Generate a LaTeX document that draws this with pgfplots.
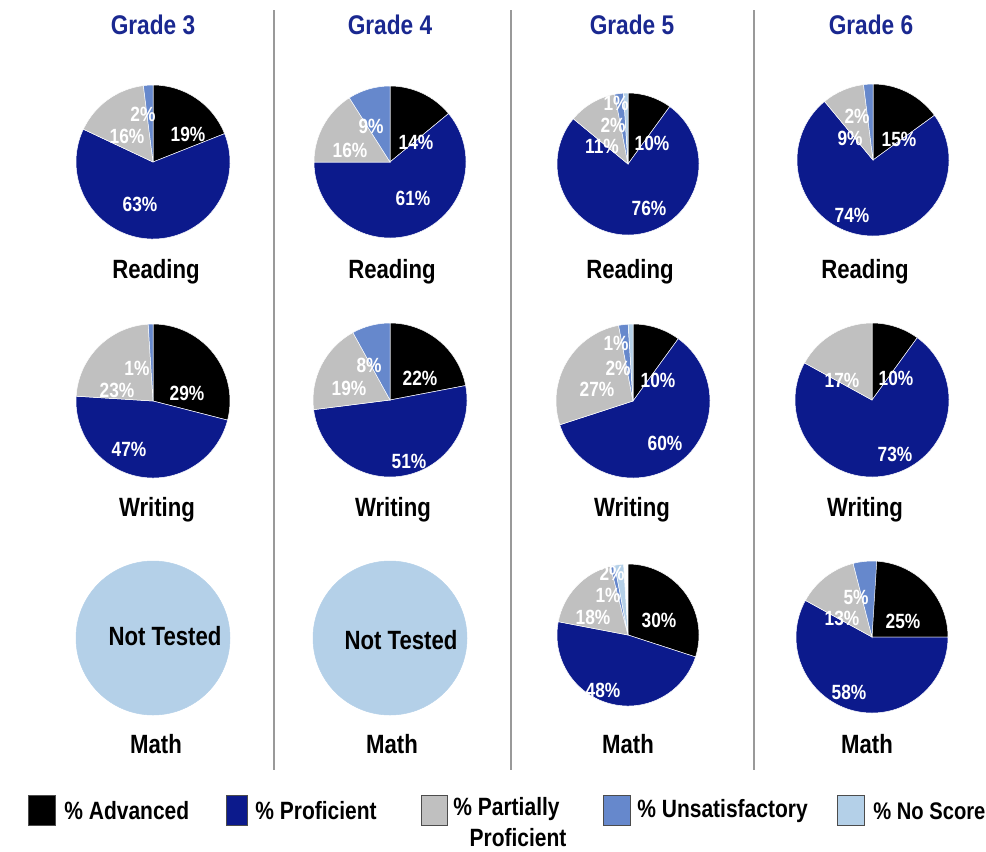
\documentclass[border=0pt]{standalone}
\usepackage{pgfplots}
\pgfplotsset{compat=1.18}
\usepackage{fontspec}
\setmainfont{Liberation Sans}[FakeStretch=0.84]
\definecolor{cAdv}{HTML}{000000}
\definecolor{cPro}{HTML}{0C1A8C}
\definecolor{cPar}{HTML}{C0C0C0}
\definecolor{cUns}{HTML}{6688CC}
\definecolor{cNos}{HTML}{B4D0E8}
\definecolor{cTitle}{HTML}{1A2890}

% one pie: centre x, centre y, radius (px), values in the order
% Advanced, Proficient, Partially, Unsatisfactory, No Score
\newcommand\pie[4]{%
  \xdef\pieang{90}%
  \pgfmathsetmacro\rr{0.5*#3}%
  \foreach \v [count=\i] in {#4}{%
    \pgfmathsetmacro\pend{\pieang-3.6*\v}%
    \ifcase\i\or\def\pc{cAdv}\or\def\pc{cPro}\or\def\pc{cPar}\or\def\pc{cUns}\or\def\pc{cNos}\fi
    \ifdim\v pt<100pt \def\pd{white}\else\def\pd{\pc}\fi
    \ifdim\v pt>0pt
      \edef\temp{\noexpand\fill[\pc, draw=\pd, line width=0.25pt] (axis cs:#1,#2) -- ++(\pieang:\rr pt) arc[start angle=\pieang, end angle=\pend, radius=\rr pt] -- cycle;}%
      \temp
    \fi
    \xdef\pieang{\pend}%
  }%
}
\newcommand\lab[3]{\node[text=white, font=\bfseries\fontsize{10.3}{11}\selectfont] at (axis cs:#1,#2) {#3\%};}
\newcommand\bigtxt[3]{\node[font=\bfseries\fontsize{13.2}{14}\selectfont] at (axis cs:#1,#2) {#3};}
\newcommand\gtitle[2]{\node[text=cTitle, font=\bfseries\fontsize{13.5}{14}\selectfont] at (axis cs:#1,25) {#2};}
\newcommand\legbox[3]{\draw[draw=black!70, fill=#3, line width=0.4pt] (axis cs:#1,795) rectangle (axis cs:#2,825);}
\newcommand\legtext[3]{\node[anchor=west, inner sep=0pt, font=\bfseries\fontsize{12.5}{14}\selectfont] at (axis cs:#1,#2) {#3};}

\begin{document}
\begin{tikzpicture}
\useasboundingbox (0,0) rectangle (493pt,426pt);
\begin{axis}[
  x=0.5pt, y=0.5pt,
  xmin=0, xmax=986, ymin=0, ymax=852,
  y dir=reverse,
  enlargelimits=false,
  hide axis, clip=false,
  at={(0,0)}, anchor=south west,
]
% separators
\draw[gray!80, line width=0.8pt] (axis cs:274,10) -- (axis cs:274,770);
\draw[gray!80, line width=0.8pt] (axis cs:511,10) -- (axis cs:511,770);
\draw[gray!80, line width=0.8pt] (axis cs:754,10) -- (axis cs:754,770);

% Reading
\pie{153}{162}{77}{19,63,16,2,0}
\pie{390}{162}{76}{14,61,16,9,0}
\pie{628}{164}{71}{10,76,11,2,1}
\pie{873}{160}{76}{15,74,9,2,0}
% Writing
\pie{153}{401}{77}{29,47,23,1,0}
\pie{390}{400}{77}{22,51,19,8,0}
\pie{633}{401}{77}{10,60,27,2,1}
\pie{872}{400}{77}{10,73,17,0,0}
% Math
\pie{153}{638}{77}{0,0,0,0,100}
\pie{390}{638}{77}{0,0,0,0,100}
\pie{628}{635}{71}{30,48,18,1,2}
\pie{872}{637}{76}{25,58,13,5,0}

% slice labels
\lab{188}{134}{19}\lab{140}{204}{63}\lab{127}{136}{16}\lab{143}{114}{2}
\lab{416}{142}{14}\lab{413}{198}{61}\lab{350}{150}{16}\lab{371}{126}{9}
\lab{652}{143}{10}\lab{649}{208}{76}\lab{602}{146}{11}\lab{613}{125}{2}\lab{616}{103}{1}
\lab{899}{139}{15}\lab{852}{215}{74}\lab{850}{138}{9}\lab{857}{116}{2}

\lab{187}{393}{29}\lab{129}{449}{47}\lab{117}{390}{23}\lab{137}{368}{1}
\lab{420}{378}{22}\lab{409}{461}{51}\lab{349}{388}{19}\lab{369}{365}{8}
\lab{658}{380}{10}\lab{665}{443}{60}\lab{597}{389}{27}\lab{618}{368}{2}\lab{616}{343}{1}
\lab{896}{378}{10}\lab{895}{454}{73}\lab{842}{380}{17}

\lab{659}{620}{30}\lab{603}{690}{48}\lab{593}{617}{18}\lab{608}{595}{1}\lab{612}{573}{2}
\lab{903}{621}{25}\lab{849}{692}{58}\lab{842}{618}{13}\lab{856}{597}{5}

\bigtxt{165}{636}{Not Tested}
\bigtxt{401}{640}{Not Tested}

% titles and row names
\gtitle{153}{Grade 3}\gtitle{390}{Grade 4}\gtitle{632}{Grade 5}\gtitle{871}{Grade 6}
\bigtxt{156}{272}{Reading}\bigtxt{392}{272}{Reading}\bigtxt{630}{272}{Reading}\bigtxt{865}{272}{Reading}
\bigtxt{157}{510}{Writing}\bigtxt{393}{510}{Writing}\bigtxt{632}{510}{Writing}\bigtxt{865}{510}{Writing}
\bigtxt{156}{744}{Math}\bigtxt{392}{744}{Math}\bigtxt{628}{744}{Math}\bigtxt{867}{744}{Math}

% legend
\legbox{28}{55}{cAdv}\legbox{226}{247}{cPro}\legbox{421}{447}{cPar}\legbox{603}{630}{cUns}\legbox{837}{864}{cNos}
\legtext{64}{811}{\% Advanced}
\legtext{255}{811}{\% Proficient}
\legtext{637}{811}{\% Unsatisfactory}
\node[anchor=west, inner sep=0pt, font=\bfseries\fontsize{12}{14}\selectfont] at (axis cs:873,811) {\% No Score};
\legtext{453}{809}{\% Partially}
\node[inner sep=0pt, font=\bfseries\fontsize{12.5}{14}\selectfont] at (axis cs:518,838) {Proficient};
\end{axis}
\end{tikzpicture}
\end{document}
